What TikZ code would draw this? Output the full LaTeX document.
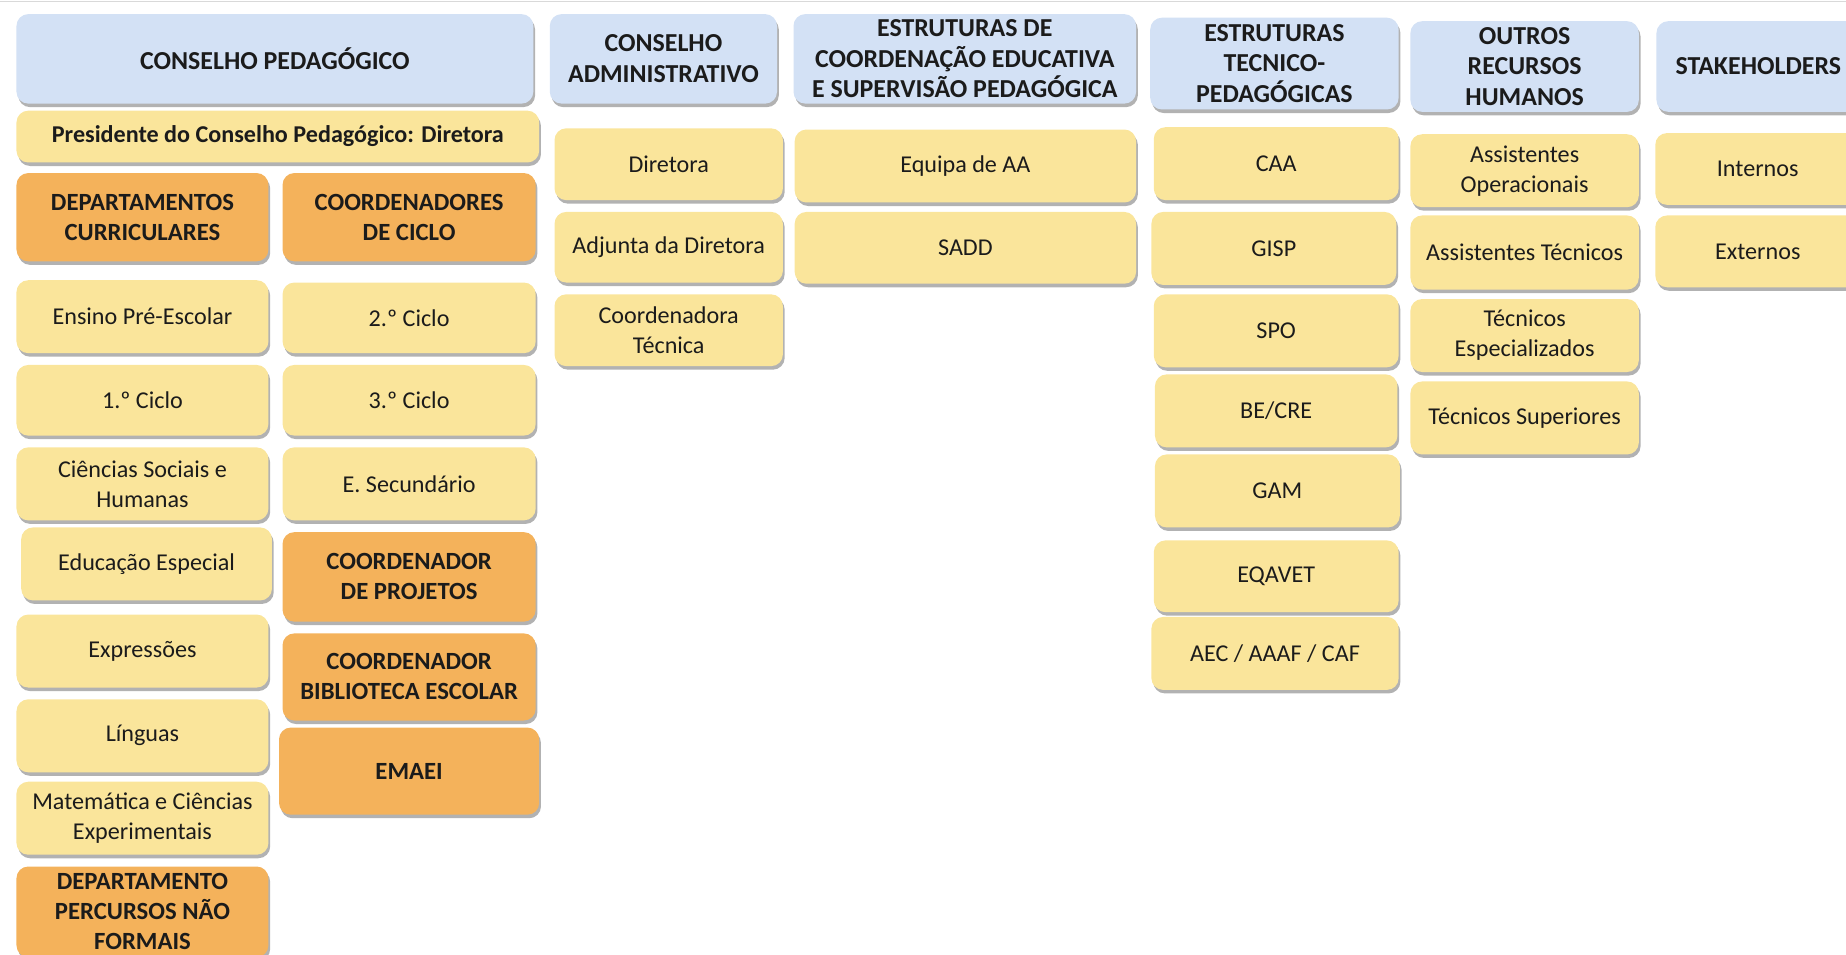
\documentclass[tikz,border=0pt]{standalone}
\usepackage{fontspec}
\setmainfont{Carlito}
\usetikzlibrary{shadows}

\definecolor{hdrblue}{HTML}{D3E1F5}
\definecolor{itemyellow}{HTML}{FAE59B}
\definecolor{headorange}{HTML}{F4B25B}
\definecolor{inktext}{HTML}{1B1B1B}

\tikzset{
  box/.style={rounded corners=10pt, inner sep=0pt, align=center, text=inktext,
    drop shadow={shadow xshift=1.5pt, shadow yshift=-3pt, opacity=0.3, fill=black}},
  sz/.style 2 args={minimum width=#1, minimum height=#2},
  hdr/.style={box, fill=hdrblue, font=\fontsize{22}{26}\selectfont\bfseries},
  item/.style={box, fill=itemyellow, font=\fontsize{20.5}{25.5}\selectfont},
  lead/.style={box, fill=headorange, font=\fontsize{21}{25.5}\selectfont\bfseries},
}

\begin{document}
\begin{tikzpicture}[x=1pt,y=-1pt]
  % Frame
  \useasboundingbox (0,0) rectangle (1568,811);
  \draw[gray!30, line width=1pt] (0,1.5) -- (1568,1.5);
  % Headers
  \node[hdr, sz={439}{76}] (cp) at (233.5,50) {CONSELHO PEDAGÓGICO};
  \node[hdr, sz={193}{76}] (cadm) at (563.5,50) {CONSELHO\\ADMINISTRATIVO};
  \node[hdr, sz={291}{76}] (ecoord) at (819.5,50) {ESTRUTURAS DE\\COORDENAÇÃO EDUCATIVA\\E SUPERVISÃO PEDAGÓGICA};
  \node[hdr, sz={211}{78}] (etec) at (1082.5,54) {ESTRUTURAS\\TECNICO-\\PEDAGÓGICAS};
  \node[hdr, sz={194}{77}] (orh) at (1295,56.5) {OUTROS\\RECURSOS\\HUMANOS};
  \node[hdr, sz={173}{77}] (stake) at (1493.5,56.5) {STAKEHOLDERS};
  % Conselho pedagogico
  \node[item, sz={444}{44}, font=\fontsize{20.5}{25.5}\selectfont\bfseries] (pres) at (236,116) {Presidente do Conselho Pedagógico: Diretora};
  \node[lead, sz={214}{75}] (dcurr) at (121,184.5) {DEPARTAMENTOS\\CURRICULARES};
  \node[lead, sz={215}{75}] (cciclo) at (347.5,184.5) {COORDENADORES\\DE CICLO};
  % Departamentos
  \node[item, sz={214}{62}] (preesc) at (121,269) {Ensino Pré-Escolar};
  \node[item, sz={214}{60}] (ciclo1) at (121,340) {1.º Ciclo};
  \node[item, sz={214}{62}] (csh) at (121,411) {Ciências Sociais e\\Humanas};
  \node[item, sz={213}{62}] (eespecial) at (124.5,479) {Educação Especial};
  \node[item, sz={214}{62}] (expr) at (121,553) {Expressões};
  \node[item, sz={214}{62}] (linguas) at (121,625) {Línguas};
  \node[item, sz={214}{62}] (mce) at (121,695) {Matemática e Ciências\\Experimentais};
  \node[lead, sz={214}{77}] (dpnf) at (121,774.5) {DEPARTAMENTO\\PERCURSOS NÃO\\FORMAIS};
  % Coordenadores
  \node[item, sz={215}{60}] (ciclo2) at (347.5,270) {2.º Ciclo};
  \node[item, sz={215}{60}] (ciclo3) at (347.5,340) {3.º Ciclo};
  \node[item, sz={215}{62}] (esec) at (347.5,411) {E. Secundário};
  \node[lead, sz={215}{76}] (cproj) at (347.5,490) {COORDENADOR\\DE PROJETOS};
  \node[lead, sz={215}{74}] (cbib) at (347.5,575) {COORDENADOR\\BIBLIOTECA ESCOLAR};
  \node[lead, sz={221}{74}] (emaei) at (347.5,655) {EMAEI};
  % Conselho administrativo
  \node[item, sz={194}{61}] (diretora) at (568,139.5) {Diretora};
  \node[item, sz={194}{60}] (adjunta) at (568,210) {Adjunta da Diretora};
  \node[item, sz={194}{61}] (ctec) at (568,280.5) {Coordenadora\\Técnica};
  % Coordenacao educativa
  \node[item, sz={290}{62}] (equipa) at (820,141) {Equipa de AA};
  \node[item, sz={290}{61}] (sadd) at (820,210.5) {SADD};
  % Tecnico-pedagogicas
  \node[item, sz={208}{62}] (caa) at (1084,139) {CAA};
  \node[item, sz={208}{62}] (gisp) at (1082,211) {GISP};
  \node[item, sz={208}{62}] (spo) at (1084,281) {SPO};
  \node[item, sz={206}{62}] (becre) at (1084,349) {BE/CRE};
  \node[item, sz={208}{62}] (gam) at (1085,417) {GAM};
  \node[item, sz={208}{61}] (eqavet) at (1084,489.5) {EQAVET};
  \node[item, sz={210}{62}] (aec) at (1083,555) {AEC / AAAF / CAF};
  % Outros recursos humanos
  \node[item, sz={194}{62}] (aop) at (1295,145) {Assistentes\\Operacionais};
  \node[item, sz={194}{63}] (atec) at (1295,214.5) {Assistentes Técnicos};
  \node[item, sz={194}{62}] (tesp) at (1295,285) {Técnicos\\Especializados};
  \node[item, sz={194}{62}] (tsup) at (1295,355) {Técnicos Superiores};
  % Stakeholders
  \node[item, sz={174}{61}] (internos) at (1493,143.5) {Internos};
  \node[item, sz={174}{61}] (externos) at (1493,213.5) {Externos};
\end{tikzpicture}
\end{document}
